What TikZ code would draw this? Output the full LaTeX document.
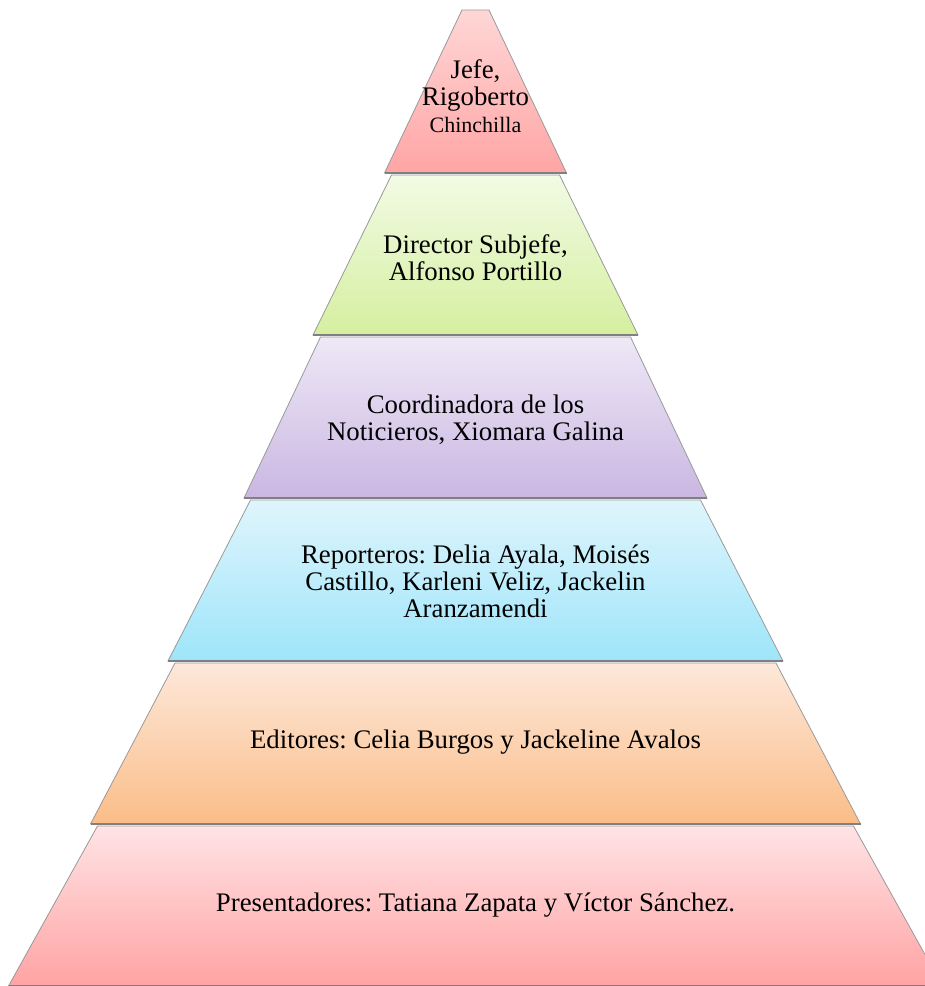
\documentclass[tikz,border=0pt]{standalone}
\usepackage{fontspec}
\setmainfont{Liberation Serif}
\usepackage{tikz}

\definecolor{topjefe}{HTML}{FFD6D6}
\definecolor{botjefe}{HTML}{FFA5A5}
\definecolor{topdir}{HTML}{F2FBE4}
\definecolor{botdir}{HTML}{D5EFA0}
\definecolor{topcoord}{HTML}{EEE8F6}
\definecolor{botcoord}{HTML}{CAB7E2}
\definecolor{toprep}{HTML}{DFF5FC}
\definecolor{botrep}{HTML}{9EE5FA}
\definecolor{topedit}{HTML}{FDE8DA}
\definecolor{botedit}{HTML}{FBBD88}
\definecolor{toppres}{HTML}{FFE3E5}
\definecolor{botpres}{HTML}{FFA3A3}

\begin{document}
\frenchspacing
\begin{tikzpicture}[x=0.5pt, y=-0.5pt,
	layer/.style={draw=gray!80, line width=0.4pt},
	rim/.style={draw=black!50, line width=0.9pt},
	level text/.style={align=center, inner sep=0pt, font=\fontsize{13.4}{13.5}\selectfont}]
	
	\clip (0,0) rectangle (925,986);
	
	% pyramid levels: top y / bottom y / top half width / bottom half width / colour
	\foreach \yt/\yb/\a/\b/\c in {10/173/13.5/91/jefe, 175/335/84/162.5/dir,
		337/498/155/231.5/coord, 500/661/225/307.5/rep,
		663/824/300.5/385/edit, 826/986/378/467/pres}{
		\path[layer, top color=top\c, bottom color=bot\c]
		(475.5-\a,\yt) -- (475.5+\a,\yt) -- (475.5+\b,\yb) -- (475.5-\b,\yb) -- cycle;
		\draw[rim] (475.5-\b,\yb) -- (475.5+\b,\yb);
	}
	
	\node[level text] (jefe) at (475.5,96) {Jefe,\\Rigoberto\\{\fontsize{11}{12}\selectfont Chinchilla}};
	\node[level text] (dir) at (475.5,258) {Director Subjefe,\\Alfonso Portillo};
	\node[level text] (coord) at (475.5,420) {Coordinadora de los\\Noticieros, Xiomara Galina};
	\node[level text] (rep) at (475.5,581) {Reporteros: Delia Ayala, Moisés\\Castillo, Karleni Veliz, Jackelin\\Aranzamendi};
	\node[level text] (edit) at (475.5,742) {Editores: Celia Burgos y Jackeline Avalos};
	\node[level text] (pres) at (475.5,905) {Presentadores: Tatiana Zapata y Víctor Sánchez.};
\end{tikzpicture}
\end{document}
